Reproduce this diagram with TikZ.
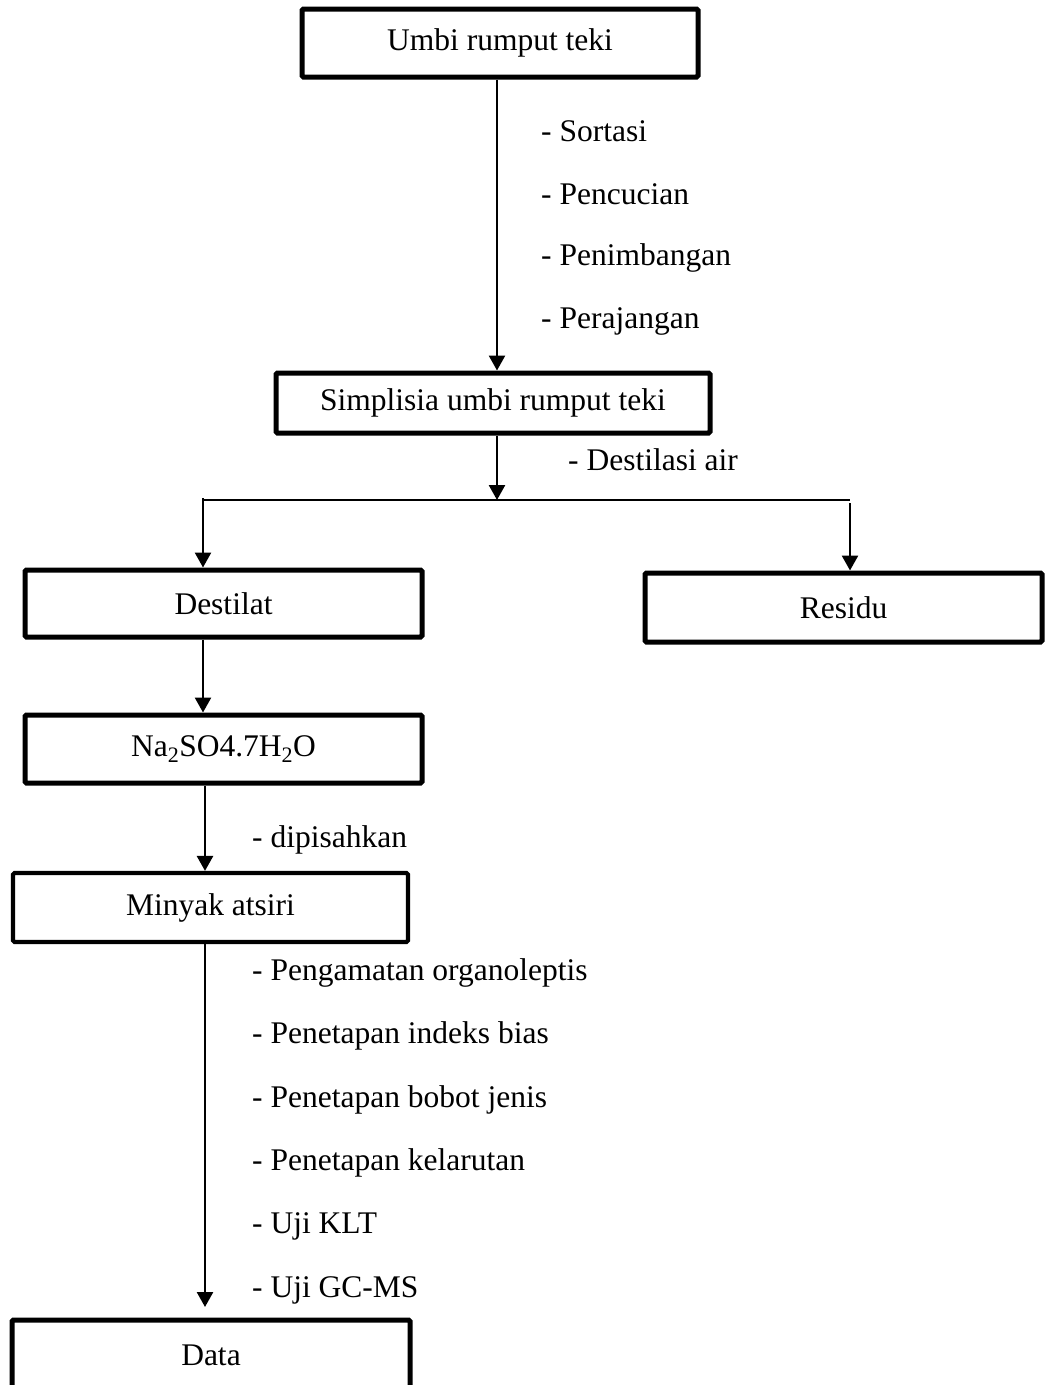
\documentclass[tikz,border=0pt]{standalone}
\usepackage{fontspec}
\setmainfont{Liberation Serif}
\usetikzlibrary{arrows.meta,calc}
\begin{document}
\begin{tikzpicture}[x=1pt,y=-1pt,
  every node/.style={font=\fontsize{31.5}{36}\selectfont},
  box/.style={draw,line width=5pt,rounded corners=1.5pt,inner sep=0pt,align=center},
  lbl/.style={anchor=west,inner sep=0pt},
  arr/.style={line width=2.6pt,-{Triangle[length=15pt,width=16pt]}},
  ln/.style={line width=2.2pt}]
\useasboundingbox (0,0) rectangle (1046,1385);
\clip (0,0) rectangle (1046,1385);
\node[box,minimum width=396pt,minimum height=68pt] (b1) at (500,43) {Umbi rumput teki};
\node[box,minimum width=434pt,minimum height=60pt] (b2) at (493,403) {Simplisia umbi rumput teki};
\node[box,minimum width=397pt,minimum height=67pt] (dest) at (223.5,603.5) {Destilat};
\node[box,minimum width=397pt,minimum height=69pt] (res) at (843.5,607.5) {Residu};
\node[box,minimum width=397pt,minimum height=68pt] (na) at (223.5,749) {Na\textsubscript{2}SO4.7H\textsubscript{2}O};
\node[box,line width=4.2pt,minimum width=395pt,minimum height=69pt] (mi) at (210.5,907.5) {Minyak atsiri};
\node[box,minimum width=398pt,minimum height=70pt] (data) at (211,1355) {Data};

\node[lbl] (l1) at (541,131) {- Sortasi};
\node[lbl] (l2) at (541,194) {- Pencucian};
\node[lbl] (l3) at (541,258) {- Penimbangan};
\node[lbl] (l4) at (541,321) {- Perajangan};
\node[lbl] (l5) at (568,460) {- Destilasi air};
\node[lbl] (l6) at (252,840) {- dipisahkan};
\node[lbl] (m1) at (252,973) {- Pengamatan organoleptis};
\node[lbl] (m2) at (252,1036) {- Penetapan indeks bias};
\node[lbl] (m3) at (252,1100) {- Penetapan bobot jenis};
\node[lbl] (m4) at (252,1163) {- Penetapan kelarutan};
\node[lbl] (m5) at (252,1226) {- Uji KLT};
\node[lbl] (m6) at (252,1290) {- Uji GC-MS};

\coordinate (split) at (497,500);
\coordinate (lsplit) at (203,500);
\coordinate (rsplit) at (850,500);
\coordinate (dend) at (205,1307);

\draw[arr] ([xshift=-3pt]b1.south) -- ([xshift=4pt]b2.north);
\draw[arr] ([xshift=4pt]b2.south) -- (split);
\draw[ln] (lsplit) -- (rsplit);
\draw[arr] ([yshift=2pt]lsplit) -- (lsplit |- dest.north);
\draw[arr] ([yshift=-3pt]rsplit) -- (rsplit |- res.north);
\draw[arr] ([xshift=-20.5pt]dest.south) -- ([xshift=-20.5pt]na.north);
\draw[arr] ([xshift=-18.5pt]na.south) -- ([xshift=-5.5pt]mi.north);
\draw[arr] ([xshift=-5.5pt]mi.south) -- (dend);
\end{tikzpicture}
\end{document}
